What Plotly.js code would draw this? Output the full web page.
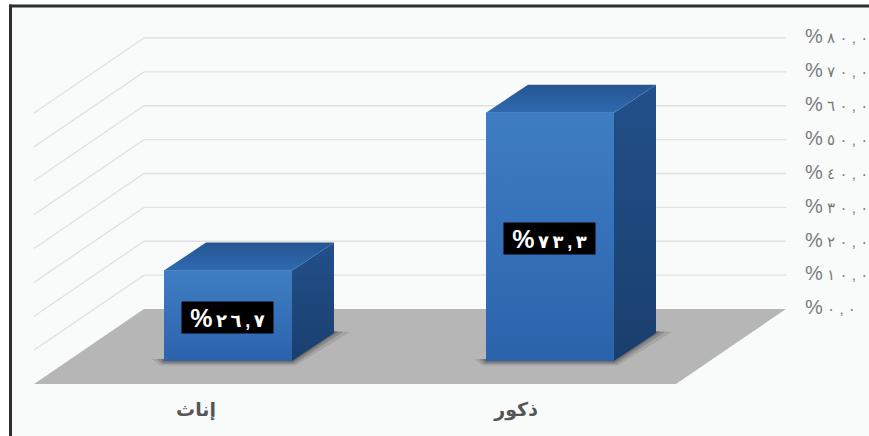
<!DOCTYPE html>
<html><head><meta charset="utf-8">
<script src="https://cdn.plot.ly/plotly-3.0.1.min.js"></script>
<style>html,body{margin:0;padding:0;background:#fff}</style></head>
<body><div id="chart" style="width:869px;height:436px"></div>
<script>
const categories = ["إناث", "ذكور"];
const values = [26.7, 73.3];
const valueDigits = ["٢٦,٧", "٧٣,٣"];
const tickValues = [0, 10, 20, 30, 40, 50, 60, 70, 80];
const tickDigits = ["٠,٠", "١٠,٠", "٢٠,٠", "٣٠,٠", "٤٠,٠", "٥٠,٠", "٦٠,٠", "٧٠,٠", "٨٠,٠"];

const W = 869, H = 436, plotW = 804, plotH = 396;
const unit = 3.3875, zeroPx = 309;          // pixels per percent, baseline row
const first = 196, step = 322;              // pixel of category 0, pixels per category
const X = p => (p - first) / step;          // absolute pixel -> axis units
const D = p => p / step;                    // horizontal pixel distance -> axis units
const U = p => p / unit;                    // vertical pixel distance -> axis units
const depthX = 110, depthY = U(75);
const baseY = U(-52), barOff = 32, barW = 128, sideX = 42, sideY = U(28);

// keep Arabic digits in left-to-right order while spreading them out
const spread = (s, gap) => Array.from(s).join("\u200E" + gap);
const labelText = (s, big, small, gap) =>
  '<span style="font-size:' + big + 'px">%</span>\u200E' + gap +
  '<span style="font-size:' + small + 'px">' + spread(s, gap) + '</span>';

const poly = pts => "M" + pts.map(p => p[0] + "," + p[1]).join(" L") + " Z";
const shapes = [];
function paperRect(x0, y0, x1, y1, color) {
  shapes.push({type: "rect", xref: "paper", yref: "paper", layer: "below",
    x0: x0 / plotW, x1: x1 / plotW, y0: 1 - y0 / plotH, y1: 1 - y1 / plotH,
    fillcolor: color, line: {width: 0}});
}
paperRect(0, 0, W, 5, "#ffffff");
paperRect(0, 0, 9, H, "#ffffff");
paperRect(9, 4.5, W, 7.5, "#2e2e2e");
paperRect(9, 4.5, 12, H, "#2e2e2e");

// floor
shapes.push({type: "path", layer: "below", xref: "x", yref: "y", line: {width: 0}, fillcolor: "#b6b6b6",
  path: poly([[X(144), 0], [X(786), 0], [X(786 - depthX), -depthY], [X(144 - depthX), -depthY]])});
// grid lines on back and side walls
tickValues.slice(1).forEach(t => {
  shapes.push({type: "path", layer: "below", xref: "x", yref: "y",
    line: {color: "#e0e2e2", width: 1.4},
    path: "M" + X(144 - depthX) + "," + (t - depthY) + " L" + X(144) + "," + t + " L" + X(786) + "," + t});
});
// soft shadows on the floor
categories.forEach((c, i) => {
  const cx = i + D(barOff), l = cx - D(barW / 2), r = cx + D(barW / 2);
  [[12, 4.5, 16, "rgba(110,110,110,0.25)"], [7, 3, 9, "rgba(90,90,90,0.32)"], [3, 1.5, 4, "rgba(70,70,70,0.38)"]].forEach(s => {
    shapes.push({type: "path", layer: "below", xref: "x", yref: "y", line: {width: 0}, fillcolor: s[3],
      path: poly([[l - D(s[0]), baseY + U(2)], [l - D(s[0] * 0.3), baseY - U(s[1])], [r + D(s[0] * 0.3), baseY - U(s[1])],
                  [r + D(sideX + s[2]), baseY + sideY + U(1)], [r + D(sideX), baseY + sideY + U(2)],
                  [r, baseY + U(2)]])});
  });
});

const traces = [];
traces.push({type: "bar", x: categories.map((c, i) => i + D(barOff)), y: values, base: baseY,
  width: D(barW), marker: {color: "#3570b6", line: {width: 0}}, hoverinfo: "skip", showlegend: false});

function face(xs, ys, colors) {
  traces.push({type: "scatter", mode: "lines", x: xs, y: ys, fill: "toself",
    line: {width: 0}, hoverinfo: "skip", showlegend: false,
    fillgradient: {type: "vertical", colorscale: colors}});
}
categories.forEach((c, i) => {
  const cx = i + D(barOff), l = cx - D(barW / 2), r = cx + D(barW / 2), dx = D(sideX);
  const top = baseY + values[i];
  face([l, r, r, l, l], [baseY, baseY, top, top, baseY],
       [[0, "#2b63ab"], [0.5, "#3571b8"], [1, "#3f7dc2"]]);
  face([r, r + dx, r + dx, r, r], [baseY, baseY + sideY, top + sideY, top, baseY],
       [[0, "#1a3f6e"], [1, "#22508a"]]);
  face([l, l + dx, r + dx, r, l], [top, top + sideY, top + sideY, top, top],
       [[0, "#2f6ab0"], [1, "#255592"]]);
});

const annotations = categories.map((c, i) => ({
  x: i + D(barOff) - D(1), y: baseY + values[i] / 2 - U(1.5), xref: "x", yref: "y",
  text: labelText(valueDigits[i], 25, 18, "\u2009"), showarrow: false, bgcolor: "#000000",
  width: 89, height: 29, borderpad: 1,
  font: {family: "Liberation Sans, DejaVu Sans", size: 18, color: "#ffffff", weight: 700}, align: "center", valign: "middle"
}));

Plotly.newPlot("chart", traces, {
  width: W, height: H,
  margin: {l: 0, r: W - plotW, t: 0, b: H - plotH, pad: 0},
  paper_bgcolor: "#f9fbfb", plot_bgcolor: "rgba(0,0,0,0)",
  showlegend: false, barmode: "overlay",
  xaxis: {range: [X(0), X(plotW)], tickmode: "array", tickvals: [0, 0.994], ticktext: categories,
    showgrid: false, zeroline: false, showline: false, ticklen: 0,
    tickfont: {family: "DejaVu Sans", size: 19, color: "#555555", weight: 700}, automargin: false},
  yaxis: {range: [U(zeroPx - plotH), U(zeroPx)], side: "right", tickmode: "array",
    tickvals: tickValues, ticktext: tickDigits.map(s => labelText(s, 20, 15, "\u2009\u200A")),
    showgrid: false, zeroline: false, showline: false, ticklen: 0,
    tickfont: {family: "Liberation Sans, DejaVu Sans", size: 15, color: "#7a7a7a"}, automargin: false},
  shapes: shapes, annotations: annotations
}, {displayModeBar: false, staticPlot: true});
</script></body></html>
